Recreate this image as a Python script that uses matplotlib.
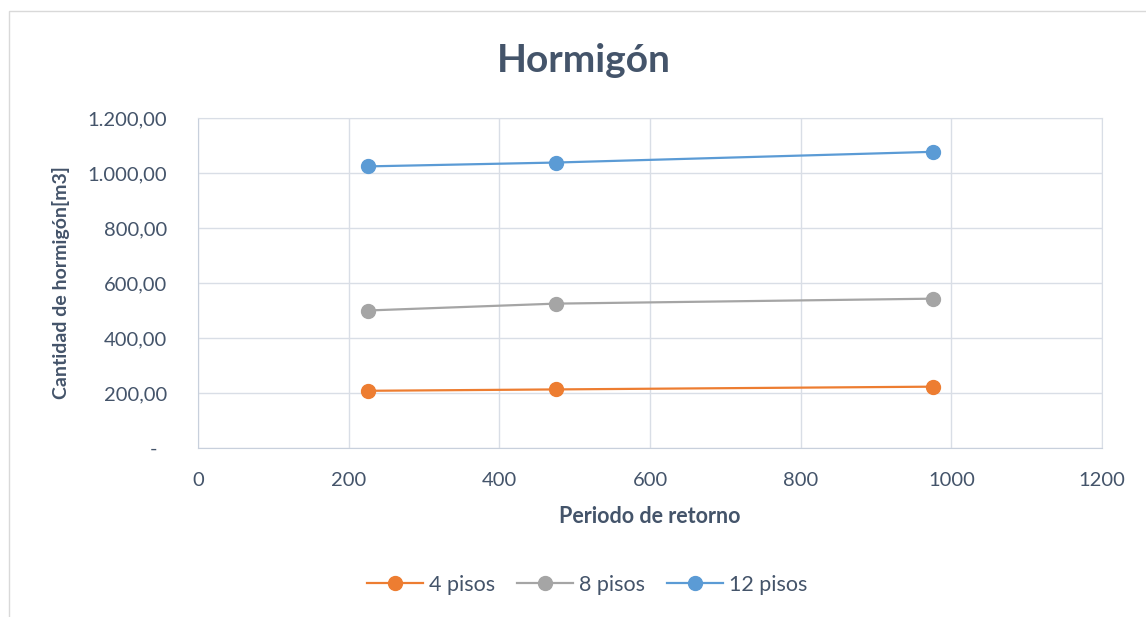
import numpy as np
import matplotlib
matplotlib.use("Agg")
import matplotlib.pyplot as plt
from matplotlib.patches import Rectangle
from matplotlib.ticker import FuncFormatter

# datos
periodo = [225, 475, 975]
pisos_4 = [208, 213, 223]
pisos_8 = [500, 525, 543]
pisos_12 = [1024, 1038, 1077]
series = ["4 pisos", "8 pisos", "12 pisos"]
colores = ["#ED7D31", "#A5A5A5", "#5B9BD5"]

txt = "#44546A"
grid_c = "#D9DEE6"
plt.rcParams['font.family'] = ['Lato', 'DejaVu Sans']

fig = plt.figure(figsize=(11.46, 6.17), dpi=100)
ax = fig.add_axes([198/1146, 1-448/617, 904/1146, 330/617])

# borde del area del grafico
fig.patches.append(Rectangle((9/1146, -0.1), 1.2, 1-11/617+0.1, transform=fig.transFigure,
                             fill=False, edgecolor="#D9D9D9", lw=1.0))

for y, lab, c in zip([pisos_4, pisos_8, pisos_12], series, colores):
    ax.plot(periodo, y, color=c, lw=1.6, marker='o', ms=10, label=lab, zorder=3)

ax.set_xlim(0, 1200)
ax.set_ylim(0, 1200)
ax.set_xticks(np.arange(0, 1201, 200))
ax.set_yticks(np.arange(0, 1201, 200))

def fmt(v, pos):
    if v == 0:
        return "-  "
    s = f"{v:,.2f}"
    return s.replace(",", "X").replace(".", ",").replace("X", ".")

ax.yaxis.set_major_formatter(FuncFormatter(fmt))
ax.grid(True, color=grid_c, lw=1.0)
ax.set_axisbelow(True)
for sp in ax.spines.values():
    sp.set_color(grid_c)
ax.spines['left'].set_color("#C8D0DC")
ax.spines['bottom'].set_color("#C8D0DC")
ax.tick_params(length=0, labelsize=14.5, colors=txt)
ax.tick_params(axis='y', pad=22)
ax.tick_params(axis='x', pad=17)

fig.text(584/1146, 1-61/617, "Hormigón", fontsize=28, fontweight='bold', color=txt,
         ha='center', va='center')
ax.set_xlabel("Periodo de retorno", fontsize=15.5, fontweight='bold', color=txt)
ax.xaxis.set_label_coords(0.5, -0.175)
ax.set_ylabel("Cantidad de hormigón[m3]", fontsize=14, fontweight='bold', color=txt)
ax.yaxis.set_label_coords(-0.142, 0.5)

leg = fig.legend(loc='center', bbox_to_anchor=(587/1146, 1-585/617), ncol=3, frameon=False,
                 fontsize=15.5, handlelength=2.6, handletextpad=0.3, columnspacing=1.0)
for t in leg.get_texts():
    t.set_color(txt)

fig.savefig("out.png", dpi=100)
